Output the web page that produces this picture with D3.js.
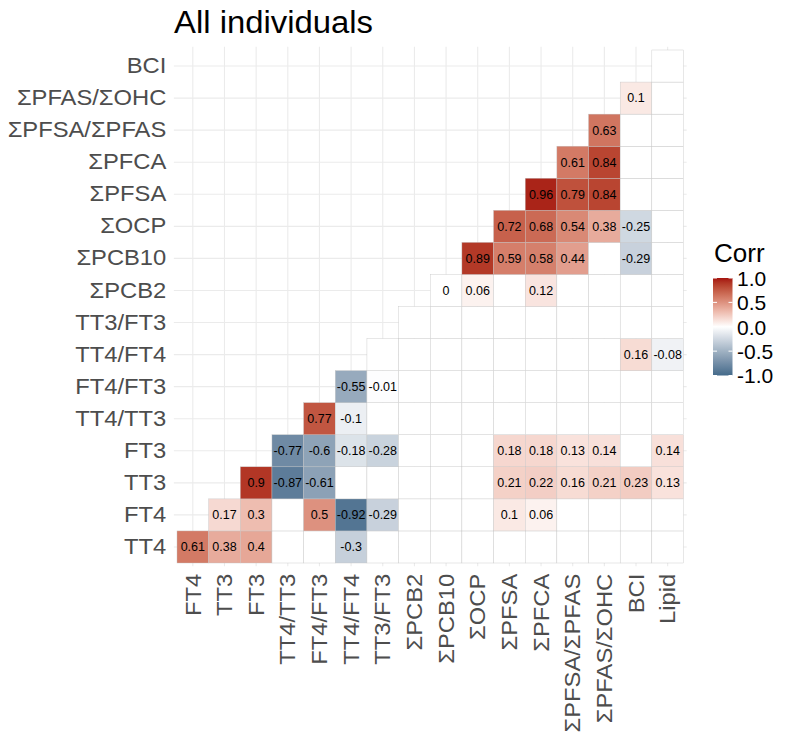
<!DOCTYPE html>
<html>
<head>
<meta charset="utf-8">
<script src="https://cdn.jsdelivr.net/npm/d3@7"></script>
<style>
  body { margin: 0; background: #ffffff; }
  svg { display: block; font-family: "Liberation Sans", Arial, Helvetica, sans-serif; }
</style>
</head>
<body>
<svg id="chart" width="787" height="733"></svg>
<script>
// Variables on the horizontal axis (left to right)
const xVars = ["FT4", "TT3", "FT3", "TT4/TT3", "FT4/FT3", "TT4/FT4", "TT3/FT3",
  "ΣPCB2", "ΣPCB10", "ΣOCP", "ΣPFSA", "ΣPFCA", "ΣPFSA/ΣPFAS", "ΣPFAS/ΣOHC", "BCI", "Lipid"];
// Variables on the vertical axis (bottom to top)
const yVars = ["TT4", "FT4", "TT3", "FT3", "TT4/TT3", "FT4/FT3", "TT4/FT4", "TT3/FT3",
  "ΣPCB2", "ΣPCB10", "ΣOCP", "ΣPFSA", "ΣPFCA", "ΣPFSA/ΣPFAS", "ΣPFAS/ΣOHC", "BCI"];

// Correlation coefficients per row, starting at the diagonal column and running right.
// null marks a non-significant pair, drawn as an empty tile.
const rowTT4 = [0.61, 0.38, 0.4, null, null, -0.3, null, null, null, null, null, null, null, null, null, null];
const rowFT4 = [0.17, 0.3, null, 0.5, -0.92, -0.29, null, null, null, 0.1, 0.06, null, null, null, null];
const rowTT3 = [0.9, -0.87, -0.61, null, null, null, null, null, 0.21, 0.22, 0.16, 0.21, 0.23, 0.13];
const rowFT3 = [-0.77, -0.6, -0.18, -0.28, null, null, null, 0.18, 0.18, 0.13, 0.14, null, 0.14];
const rowTT4TT3 = [0.77, -0.1, null, null, null, null, null, null, null, null, null, null];
const rowFT4FT3 = [-0.55, -0.01, null, null, null, null, null, null, null, null, null];
const rowTT4FT4 = [null, null, null, null, null, null, null, null, 0.16, -0.08];
const rowTT3FT3 = [null, null, null, null, null, null, null, null, null];
const rowPCB2 = [0, 0.06, null, 0.12, null, null, null, null];
const rowPCB10 = [0.89, 0.59, 0.58, 0.44, null, -0.29, null];
const rowOCP = [0.72, 0.68, 0.54, 0.38, -0.25, null];
const rowPFSA = [0.96, 0.79, 0.84, null, null];
const rowPFCA = [0.61, 0.84, null, null];
const rowPFSAPFAS = [0.63, null, null];
const rowPFASOHC = [0.1, null];
const rowBCI = [null];

const legendTicks = [-1, -0.5, 0, 0.5, 1];
const titleText = "All individuals";
const legendTitle = "Corr";

const rows = [rowTT4, rowFT4, rowTT3, rowFT3, rowTT4TT3, rowFT4FT3, rowTT4FT4, rowTT3FT3,
  rowPCB2, rowPCB10, rowOCP, rowPFSA, rowPFCA, rowPFSAPFAS, rowPFASOHC, rowBCI];

const cells = [];
rows.forEach((vals, r) => {
  vals.forEach((v, k) => cells.push({ row: yVars[r], col: xVars[r + k], value: v }));
});

const svg = d3.select("#chart");

const x = d3.scaleBand().domain(xVars).range([177, 683.5]);
const y = d3.scaleBand().domain(yVars.slice().reverse()).range([50, 563]);
const bw = x.bandwidth(), bh = y.bandwidth();

// panel extends a tenth of a tile beyond the outer tiles
const panel = {
  left: x.range()[0] - 0.1 * bw, right: x.range()[1] + 0.1 * bw,
  top: y.range()[0] - 0.1 * bh, bottom: y.range()[1] + 0.1 * bh
};

const color = d3.scaleLinear()
  .domain([-1, 0, 1])
  .range(["#446a8a", "#ffffff", "#a5140f"])
  .interpolate(d3.interpolateLab);

// hyphen-minus for negative numbers
const fmtLegend = d => d3.format(".1f")(d).replace("\u2212", "-");

// grid
const grid = svg.append("g").attr("stroke", "#ebebeb").attr("stroke-width", 1.1);
grid.selectAll("line.v").data(xVars).join("line")
  .attr("x1", d => x(d) + bw / 2).attr("x2", d => x(d) + bw / 2)
  .attr("y1", panel.top).attr("y2", panel.bottom);
grid.selectAll("line.h").data(yVars).join("line")
  .attr("y1", d => y(d) + bh / 2).attr("y2", d => y(d) + bh / 2)
  .attr("x1", panel.left).attr("x2", panel.right);

// tiles
svg.append("g").selectAll("rect").data(cells).join("rect")
  .attr("x", d => x(d.col)).attr("y", d => y(d.row))
  .attr("width", bw).attr("height", bh)
  .attr("fill", d => color(d.value === null ? 0 : d.value))
  .attr("stroke", "#c4c4c4").attr("stroke-width", 0.4);

// coefficient labels
svg.append("g").selectAll("text").data(cells.filter(d => d.value !== null)).join("text")
  .attr("x", d => x(d.col) + bw / 2).attr("y", d => y(d.row) + bh / 2)
  .attr("dy", "0.35em").attr("text-anchor", "middle")
  .attr("font-size", 12.5).attr("fill", "#000")
  .text(d => String(d.value));

// axes
const yAxis = svg.append("g").attr("transform", `translate(${panel.left},0)`)
  .call(d3.axisLeft(y).tickSize(0).tickPadding(7));
yAxis.select(".domain").remove();
yAxis.selectAll("text").attr("font-size", 22).attr("fill", "#4d4d4d")
  .attr("font-family", "'Liberation Sans', Arial, sans-serif")
  .attr("transform", "scale(1.08,1)");

const xAxis = svg.append("g").attr("transform", `translate(0,${panel.bottom})`)
  .call(d3.axisBottom(x).tickSize(0));
xAxis.select(".domain").remove();
xAxis.selectAll("text")
  .attr("x", -7).attr("y", 0).attr("dy", "0.35em")
  .attr("transform", "rotate(-90) scale(1.08,1)")
  .attr("text-anchor", "end")
  .attr("font-size", 22).attr("fill", "#4d4d4d")
  .attr("font-family", "'Liberation Sans', Arial, sans-serif");

// title
svg.append("text")
  .attr("x", 0).attr("y", 0)
  .attr("font-size", 31).attr("fill", "#000")
  .attr("transform", "translate(174,33) scale(1.06,1)")
  .text(titleText);

// legend
const legend = { x: 713, w: 19.5, top: 278, bottom: 375.5 };
const ly = d3.scaleLinear().domain([-1, 1]).range([legend.bottom, legend.top]);
const defs = svg.append("defs");
const grad = defs.append("linearGradient").attr("id", "corrGrad")
  .attr("x1", 0).attr("y1", 1).attr("x2", 0).attr("y2", 0);
d3.range(0, 1.0001, 0.05).forEach(t => {
  grad.append("stop").attr("offset", t).attr("stop-color", color(-1 + 2 * t));
});
svg.append("rect")
  .attr("x", legend.x).attr("y", legend.top)
  .attr("width", legend.w).attr("height", legend.bottom - legend.top)
  .attr("fill", "url(#corrGrad)");
const lt = svg.append("g").attr("stroke", "#ffffff").attr("stroke-width", 1);
legendTicks.forEach(t => {
  lt.append("line").attr("x1", legend.x).attr("x2", legend.x + 4)
    .attr("y1", ly(t)).attr("y2", ly(t));
  lt.append("line").attr("x1", legend.x + legend.w - 4).attr("x2", legend.x + legend.w)
    .attr("y1", ly(t)).attr("y2", ly(t));
});
svg.append("g").selectAll("text").data(legendTicks).join("text")
  .attr("x", 737).attr("y", d => ly(d)).attr("dy", "0.38em")
  .attr("font-size", 21).attr("fill", "#000")
  .text(fmtLegend);
svg.append("text")
  .attr("x", 714).attr("y", 262)
  .attr("font-size", 26).attr("fill", "#000")
  .text(legendTitle);
</script>
</body>
</html>
